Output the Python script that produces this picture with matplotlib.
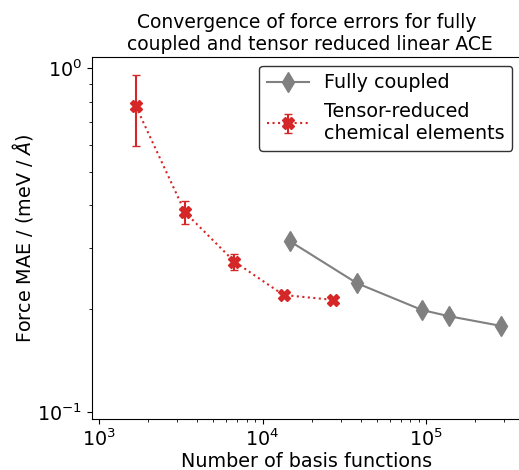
import matplotlib
matplotlib.use("Agg")
import matplotlib.pyplot as plt

# Fully coupled
fc_n = [14700, 37800, 94600, 138000, 288000]
fc_mae = [0.314, 0.237, 0.198, 0.190, 0.178]

# Tensor-reduced
tr_n = [1680, 3360, 6720, 13440, 26880]
tr_mae = [0.776, 0.381, 0.274, 0.219, 0.212]
tr_err_lo = [0.183, 0.029, 0.015, 0.003, 0.003]
tr_err_hi = [0.183, 0.030, 0.015, 0.003, 0.003]

plt.rcParams['font.size'] = 13.8
fig = plt.figure(figsize=(5.19, 4.70), dpi=100)
ax = fig.add_axes([92/519, 1-419/470, (521-92)/519, (419-57)/470])

ax.plot(fc_n, fc_mae, '-', color='gray', marker='d', markersize=10,
        linewidth=1.5, label='Fully coupled')
ax.errorbar(tr_n, tr_mae, yerr=[tr_err_lo, tr_err_hi], fmt='X', linestyle=':',
            color='tab:red', markersize=8, capsize=3, linewidth=1.5,
            label='Tensor-reduced\nchemical elements')

ax.set_xscale('log')
ax.set_yscale('log')
ax.set_xlim(906, 381000)
ax.set_ylim(0.0954, 1.079)
ax.set_xlabel('Number of basis functions', labelpad=1)
ax.set_ylabel(r'Force MAE / (meV / $\AA$)', labelpad=2)
ax.set_title('Convergence of force errors for fully\n coupled and tensor reduced linear ACE',
             fontsize=13.5, pad=5)
ax.legend(loc='upper right', framealpha=1, edgecolor='#333333',
          handlelength=2.2, borderaxespad=0.45)
fig.savefig('out.png', dpi=100)
